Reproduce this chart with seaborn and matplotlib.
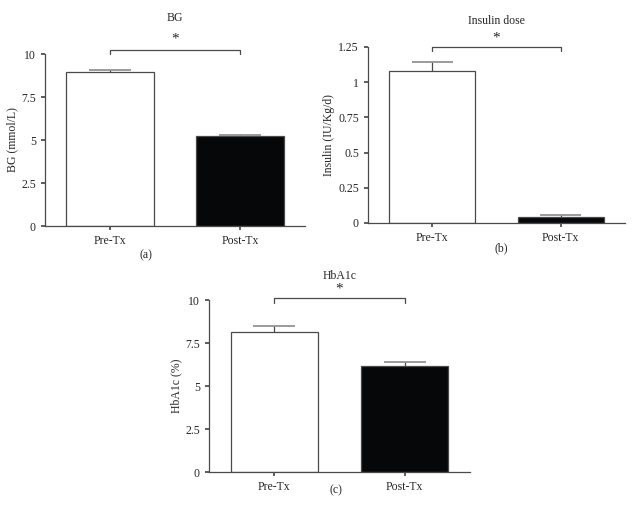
import numpy as np
import pandas as pd
import matplotlib
matplotlib.use("Agg")
import matplotlib.pyplot as plt
import seaborn as sns

# data (mean, upper error bar)
groups = ["Pre-Tx", "Post-Tx"]
bg_mean = [8.95, 5.25]
bg_err = [0.10, 0.06]
ins_mean = [1.078, 0.045]
ins_err = [0.063, 0.010]
hba_mean = [8.12, 6.14]
hba_err = [0.36, 0.23]

bg_ticks = [0, 2.5, 5, 7.5, 10]
ins_ticks = [0, 0.25, 0.5, 0.75, 1, 1.25]
hba_ticks = [0, 2.5, 5, 7.5, 10]

sns.set_theme(style="ticks")
plt.rcParams["font.family"] = ["Liberation Serif", "DejaVu Serif"]
plt.rcParams["font.size"] = 8.5

EDGE = "#4a4a4a"
CAP = "#8a8a8a"
FS = 8.5


def bar_panel(ax, mean, err, ticks, ylabel, title, star_y, br_y, br_low, title_y):
    df = pd.DataFrame({"group": groups, "value": mean})
    sns.barplot(data=df, x="group", y="value", hue="group",
                palette=["white", "#050708"], edgecolor=EDGE, linewidth=0.9,
                width=0.67, legend=False, errorbar=None, ax=ax)
    ax.errorbar(range(len(groups)), mean, yerr=[np.zeros(len(err)), err],
                fmt="none", ecolor=EDGE, elinewidth=0.9, capsize=0)
    ax.hlines(np.array(mean) + np.array(err),
              np.arange(len(groups)) - 0.16, np.arange(len(groups)) + 0.16,
              colors=CAP, linewidth=1.2)
    ax.set_xlim(-0.5, 1.5)
    ax.set_ylim(0, ticks[-1])
    ax.set_yticks(ticks)
    ax.set_yticklabels([f"{t:g}" for t in ticks], fontsize=FS)
    ax.tick_params(axis="x", labelsize=FS, length=3, color=EDGE)
    ax.tick_params(axis="y", length=3, color=EDGE)
    ax.set_xlabel("")
    ax.set_ylabel(ylabel, fontsize=FS, labelpad=2)
    for s in ["left", "bottom"]:
        ax.spines[s].set_color(EDGE)
        ax.spines[s].set_linewidth(0.9)
    sns.despine(ax=ax)
    # significance bracket
    ax.plot([0, 0, 1, 1], [br_low, br_y, br_y, br_low], color=EDGE,
            linewidth=0.9, clip_on=False)
    ax.text(0.5, star_y, "*", ha="center", va="center", fontsize=11)
    ax.text(0.5, title_y, title, ha="center", va="center", fontsize=FS,
            transform=ax.transAxes)


fig = plt.figure(figsize=(6.4, 5.18), dpi=100)
ax_a = fig.add_axes([0.0703, 0.5637, 0.4063, 0.332])
ax_b = fig.add_axes([0.575, 0.5695, 0.4016, 0.3398])
ax_c = fig.add_axes([0.3266, 0.0888, 0.4078, 0.332])

bar_panel(ax_a, bg_mean, bg_err, bg_ticks, "BG (mmol/L)", "BG",
          10.87, 10.23, 10.0, 1.21)
bar_panel(ax_b, ins_mean, ins_err, ins_ticks, "Insulin (IU/Kg/d)", "Insulin dose",
          1.314, 1.25, 1.225, 1.148)
bar_panel(ax_c, hba_mean, hba_err, hba_ticks, "HbA1c (%)", "HbA1c",
          10.64, 10.1, 9.85, 1.14)

fig.text(146 / 640, 1 - 255 / 518, "(a)", ha="center", va="center", fontsize=FS)
fig.text(501 / 640, 1 - 248 / 518, "(b)", ha="center", va="center", fontsize=FS)
fig.text(336 / 640, 1 - 490 / 518, "(c)", ha="center", va="center", fontsize=FS)

fig.savefig("out.png", dpi=100)
